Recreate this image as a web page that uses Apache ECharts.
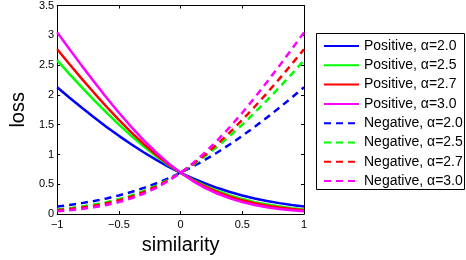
<!DOCTYPE html>
<html><head><meta charset="utf-8">
<script src="https://cdn.jsdelivr.net/npm/echarts@6/dist/echarts.min.js"></script>
<style>html,body{margin:0;padding:0;background:#fff}#c{width:466px;height:260px}</style>
</head><body><div id="c"></div>
<script>
var similarity = [-1,-0.9,-0.8,-0.7,-0.6,-0.5,-0.4,-0.3,-0.2,-0.1,0,0.1,0.2,0.3,0.4,0.5,0.6,0.7,0.8,0.9,1];
var xTicks = [-1,-0.5,0,0.5,1];
var yTicks = [0,0.5,1,1.5,2,2.5,3,3.5];
var posA20 = [2.127,1.953,1.784,1.620,1.463,1.313,1.171,1.038,0.913,0.798,0.693,0.598,0.513,0.437,0.371,0.313,0.263,0.220,0.184,0.153,0.127];
var posA25 = [2.579,2.350,2.127,1.910,1.701,1.502,1.313,1.137,0.974,0.826,0.693,0.576,0.474,0.387,0.313,0.252,0.201,0.160,0.127,0.100,0.079];
var posA27 = [2.765,2.514,2.269,2.031,1.801,1.581,1.372,1.178,0.999,0.837,0.693,0.567,0.459,0.368,0.292,0.231,0.181,0.141,0.109,0.084,0.065];
var posA30 = [3.049,2.765,2.487,2.216,1.953,1.701,1.463,1.241,1.038,0.854,0.693,0.554,0.437,0.341,0.263,0.201,0.153,0.116,0.087,0.065,0.049];
var negA20 = [0.127,0.153,0.184,0.220,0.263,0.313,0.371,0.437,0.513,0.598,0.693,0.798,0.913,1.038,1.171,1.313,1.463,1.620,1.784,1.953,2.127];
var negA25 = [0.079,0.100,0.127,0.160,0.201,0.252,0.313,0.387,0.474,0.576,0.693,0.826,0.974,1.137,1.313,1.502,1.701,1.910,2.127,2.350,2.579];
var negA27 = [0.065,0.084,0.109,0.141,0.181,0.231,0.292,0.368,0.459,0.567,0.693,0.837,0.999,1.178,1.372,1.581,1.801,2.031,2.269,2.514,2.765];
var negA30 = [0.049,0.065,0.087,0.116,0.153,0.201,0.263,0.341,0.437,0.554,0.693,0.854,1.038,1.241,1.463,1.701,1.953,2.216,2.487,2.765,3.049];
var seriesNames = ['Positive, \u03b1=2.0','Positive, \u03b1=2.5','Positive, \u03b1=2.7','Positive, \u03b1=3.0','Negative, \u03b1=2.0','Negative, \u03b1=2.5','Negative, \u03b1=2.7','Negative, \u03b1=3.0'];
var seriesData = [posA20,posA25,posA27,posA30,negA20,negA25,negA27,negA30];
var colors = ['#0000ff','#00ff00','#ff0000','#ff00ff','#0000ff','#00ff00','#ff0000','#ff00ff'];

var FONT = 'Liberation Sans, Arial, Helvetica, sans-serif';
function fmt(v){ return String(v).replace('-', '\u2212'); }
var series = seriesData.map(function(arr, i){
  return {
    name: seriesNames[i], type: 'line', showSymbol: false, symbol: 'none',
    smooth: false, animation: false,
    data: arr.map(function(v, j){ return [similarity[j], v]; }),
    lineStyle: { color: colors[i], width: 2.5, type: i < 4 ? 'solid' : [7, 5], cap: 'butt' },
    itemStyle: { color: colors[i] }
  };
});
var chart = echarts.init(document.getElementById('c'), null, {renderer: 'canvas'});
var axisCommon = {
  type: 'value',
  axisLine: { show: true, onZero: false, lineStyle: { color: '#000', width: 1 } },
  axisTick: { show: true, inside: true, length: 3, lineStyle: { color: '#000' } },
  splitLine: { show: false },
  axisLabel: { color: '#000', fontFamily: FONT, fontSize: 11 }
};
chart.setOption({
  animation: false,
  backgroundColor: '#fff',
  grid: { left: 46, top: 5, right: 162, bottom: 42, containLabel: false },
  xAxis: [
    Object.assign({}, axisCommon, { min: -1, max: 1, interval: 0.5, position: 'bottom',
      name: 'similarity', nameLocation: 'middle', nameGap: 28,
      nameTextStyle: { color: '#000', fontFamily: FONT, fontSize: 20, verticalAlign: 'middle', lineHeight: 20 },
      axisLabel: { color: '#000', fontFamily: FONT, fontSize: 11, margin: 5, formatter: fmt } }),
    Object.assign({}, axisCommon, { min: -1, max: 1, interval: 0.5, position: 'top',
      axisLabel: { show: false } })
  ],
  yAxis: [
    Object.assign({}, axisCommon, { min: 0, max: 3.5, interval: 0.5, position: 'left',
      name: 'loss', nameLocation: 'middle', nameGap: 37.5, nameRotate: 90,
      nameTextStyle: { color: '#000', fontFamily: FONT, fontSize: 20, verticalAlign: 'middle', lineHeight: 20 },
      axisLabel: { color: '#000', fontFamily: FONT, fontSize: 11, margin: 3, formatter: fmt } }),
    Object.assign({}, axisCommon, { min: 0, max: 3.5, interval: 0.5, position: 'right',
      axisLabel: { show: false } })
  ],
  legend: {
    left: 316, top: 34, orient: 'vertical',
    padding: [5, 4, 5, 7],
    itemWidth: 35, itemHeight: 14, itemGap: 5.3,
    itemStyle: { opacity: 0 },
    textStyle: { color: '#000', fontFamily: FONT, fontSize: 14, lineHeight: 14 },
    data: seriesNames
  },
  graphic: [{
    type: 'rect', shape: { x: 316.5, y: 33.5, width: 148, height: 156 },
    style: { fill: null, stroke: '#000', lineWidth: 1 }, silent: true, z: 100
  }],
  series: series
});
</script></body></html>
